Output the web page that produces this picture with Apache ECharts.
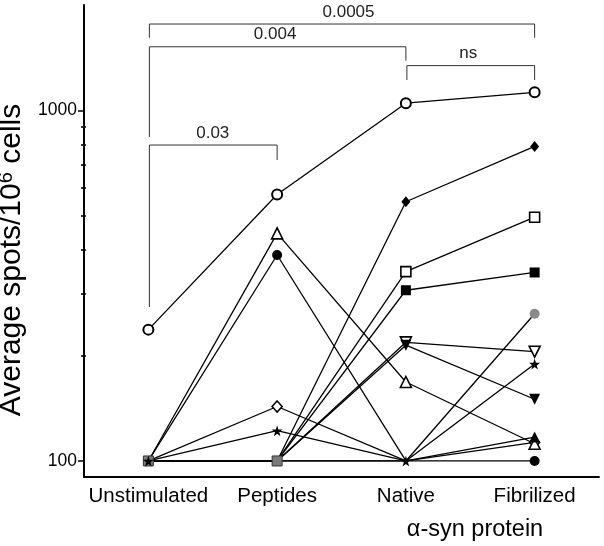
<!DOCTYPE html>
<html><head><meta charset="utf-8">
<script src="https://cdn.jsdelivr.net/npm/echarts@6/dist/echarts.min.js"></script>
<style>html,body{margin:0;padding:0;background:#fff}#c{width:604px;height:546px}</style>
</head><body><div id="c"></div>
<script>
const categories = ['Unstimulated', 'Peptides', 'Native', 'Fibrilized'];
const openCircle        = [237, 576, 1049, 1127];
const filledDiamond     = [100, 100, 549, 790];
const openSquare        = [100, 100, 347, 496];
const filledSquare      = [100, 100, 307, 345];
const openInvTriangle   = [100, 100, 218, 205];
const filledInvTriangle = [100, 100, 214, 150];
const openTriangle      = [100, 446, 168, 112];
const filledTriangle    = [100, 100, 100, 117];
const openDiamond       = [100, 143, 100, 113];
const starSeries        = [100, 122, 100, 189];
const greyCircle        = [100, 100, 100, 263];
const filledCircle      = [100, 387, 100, 100];
const greySquare        = [100, 100, null, null];
const yMajorTicks = [100, 1000];
const yMinorTicks = [200, 300, 400, 500, 600, 700, 800, 900];
const comparisons = [
  { from: 0, to: 1, label: '0.03' },
  { from: 0, to: 2, label: '0.004' },
  { from: 2, to: 3, label: 'ns' },
  { from: 0, to: 3, label: '0.0005' }
];

const FONT = '"Liberation Sans", Arial, Helvetica, sans-serif';
const STAR = 'path://M50,0 L61,35 L98,35 L68,57 L79,91 L50,70 L21,91 L32,57 L2,35 L39,35 Z';
const OPEN = { color: '#fff', borderColor: '#000', borderWidth: 1.6 };
const FILL = { color: '#000', borderColor: '#000', borderWidth: 0 };

function mk(values, symbol, size, style, keep, rotate) {
  keep = keep || [];
  return {
    type: 'line',
    xAxisIndex: 0, yAxisIndex: 0,
    showAllSymbol: true,
    animation: false,
    silent: true,
    lineStyle: { color: '#000', width: 1.3 },
    itemStyle: style,
    symbolRotate: rotate || 0,
    data: values.map((v, i) => ({
      value: v,
      symbol: (v === 100 && keep.indexOf(i) < 0) ? 'none' : symbol,
      symbolSize: size
    }))
  };
}

const series = [
  mk(filledDiamond, 'diamond', [9, 11], FILL),
  mk(openSquare, 'rect', 10, OPEN),
  mk(filledSquare, 'rect', 10, FILL),
  mk(openInvTriangle, 'triangle', 11, OPEN, [], 180),
  mk(filledInvTriangle, 'triangle', 11, FILL, [], 180),
  mk(greyCircle, 'circle', 10, { color: '#8a8a8a', borderWidth: 0 }),
  mk(openDiamond, 'diamond', [10, 11], OPEN),
  mk(openTriangle, 'triangle', 11, OPEN),
  mk(filledTriangle, 'triangle', 11, FILL),
  mk(filledCircle, 'circle', 10, FILL, [3]),
  mk(openCircle, 'circle', 10, { color: '#fff', borderColor: '#000', borderWidth: 2 }),
  {
    type: 'line', xAxisIndex: 0, yAxisIndex: 0, animation: false, silent: true,
    showAllSymbol: true,
    lineStyle: { width: 0, opacity: 0 },
    symbol: 'rect', symbolSize: 10,
    itemStyle: { color: '#7a7a7a', borderColor: '#333', borderWidth: 1 },
    data: greySquare
  },
  mk(starSeries, STAR, 11, FILL, [0, 2])
];

const gridBox = { left: 84, right: 5, top: 5, bottom: 69, containLabel: false, outerBoundsMode: 'none' };
const chart = echarts.init(document.getElementById('c'), null, { renderer: 'canvas' });

const hiddenX = (gi) => ({ type: 'category', gridIndex: gi, data: categories, show: false });
const minorY = (gi, inside, len) => ({
  type: 'log', logBase: 10, gridIndex: gi, min: 90, max: 2000,
  axisLine: { show: false }, splitLine: { show: false }, axisLabel: { show: false },
  axisTick: { show: true, inside: inside, length: len, customValues: yMinorTicks,
              lineStyle: { color: '#000', width: 1.6 } }
});

chart.setOption({
  backgroundColor: '#fff',
  animation: false,
  grid: [
    Object.assign({}, gridBox),
    Object.assign({}, gridBox),
    Object.assign({}, gridBox)
  ],
  xAxis: [
    {
      type: 'category', gridIndex: 0, data: categories, boundaryGap: true,
      axisLine: { lineStyle: { color: '#000', width: 1.8 } },
      axisTick: { alignWithLabel: true, interval: 0, length: 5, lineStyle: { color: '#000', width: 1.5 } },
      axisLabel: { color: '#000', fontSize: 20.5, fontFamily: FONT, margin: 9, interval: 0 },
      name: 'α-syn protein', nameLocation: 'middle', nameGap: 41,
      nameTextStyle: { color: '#000', fontSize: 23.5, fontFamily: FONT, padding: [0, 0, 0, 267] }
    },
    hiddenX(1), hiddenX(2)
  ],
  yAxis: [
    {
      type: 'log', logBase: 10, gridIndex: 0, min: 90, max: 2000,
      axisLine: { show: true, lineStyle: { color: '#000', width: 2 } },
      splitLine: { show: false },
      axisTick: { show: true, length: 6, customValues: yMajorTicks, lineStyle: { color: '#000', width: 1.5 } },
      axisLabel: { color: '#000', fontSize: 17.5, fontFamily: FONT, margin: 7, customValues: yMajorTicks,
                   formatter: (v) => String(Math.round(v)) },
      name: 'Average spots/10{sup|6} cells', nameLocation: 'middle', nameGap: 45, nameRotate: 90,
      nameTextStyle: {
        color: '#000', fontSize: 30, fontFamily: FONT, padding: [0, 38, 0, 0],
        rich: { sup: { fontSize: 20, fontFamily: FONT, color: '#000', verticalAlign: 'top', padding: [0, 0, 12, 0] } }
      }
    },
    minorY(1, false, 3),
    minorY(2, true, 2)
  ],
  series: series
});

// significance brackets: [bar height, left leg end, right leg end, label shift] in data units
const bracketLayout = {
  '0.03':   [797, 275, 722, 0],
  '0.004':  [1520, 840, 1387, -2],
  'ns':     [1343, 1222, 1222, -2],
  '0.0005': [1765, 1613, 1613, 7]
};
const graphics = [];
comparisons.forEach((c) => {
  const L = bracketLayout[c.label];
  const pBar1 = chart.convertToPixel({ gridIndex: 0 }, [c.from, L[0]]);
  const pBar2 = chart.convertToPixel({ gridIndex: 0 }, [c.to, L[0]]);
  const pL = chart.convertToPixel({ gridIndex: 0 }, [c.from, L[1]]);
  const pR = chart.convertToPixel({ gridIndex: 0 }, [c.to, L[2]]);
  graphics.push({
    type: 'polyline', silent: true, z: 10,
    shape: { points: [[pL[0] + 1, pL[1]], [pBar1[0] + 1, pBar1[1]], [pBar2[0], pBar2[1]], [pR[0], pR[1]]] },
    style: { stroke: '#333', lineWidth: 1, fill: null }
  });
  graphics.push({
    type: 'text', silent: true, z: 10,
    x: (pBar1[0] + pBar2[0]) / 2 + L[3], y: pBar1[1] - 12,
    style: { text: c.label, font: '17px ' + FONT, fill: '#222', align: 'center', verticalAlign: 'middle' }
  });
});
chart.setOption({ graphic: graphics });
</script>
</body></html>
